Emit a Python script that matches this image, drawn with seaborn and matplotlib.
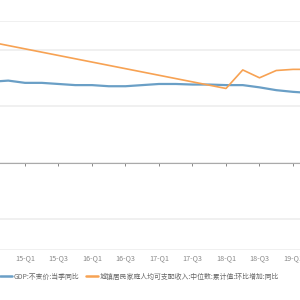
import numpy as np
import pandas as pd
import seaborn as sns
import matplotlib.pyplot as plt

#%% data
quarters = ["14-Q1", "14-Q2", "14-Q3", "14-Q4",
            "15-Q1", "15-Q2", "15-Q3", "15-Q4",
            "16-Q1", "16-Q2", "16-Q3", "16-Q4",
            "17-Q1", "17-Q2", "17-Q3", "17-Q4",
            "18-Q1", "18-Q2", "18-Q3", "18-Q4",
            "19-Q1", "19-Q2"]
gdp_yoy = [7.4, 7.5, 7.2, 7.3,
           7.1, 7.1, 7.0, 6.9,
           6.9, 6.8, 6.8, 6.9,
           7.0, 7.0, 6.95, 6.95,
           6.9, 6.9, 6.7, 6.45,
           6.3, 6.2]
income_yoy = [11.3, np.nan, np.nan, np.nan,
              np.nan, np.nan, np.nan, np.nan,
              np.nan, np.nan, np.nan, np.nan,
              np.nan, np.nan, np.nan, np.nan,
              6.6, 8.25, 7.55, 8.2,
              8.3, 8.3]
gdp_label = "GDP:不变价:当季同比"
income_label = "城镇居民家庭人均可支配收入:中位数:累计值:环比增加:同比"

df = pd.DataFrame({"q": np.arange(len(quarters)), "gdp": gdp_yoy, "income": income_yoy})

#%% style
sns.set_theme(style="white")
plt.rcParams['font.family'] = ['Noto Sans CJK SC', 'DejaVu Sans']

blue = "#6a9fc6"
orange = "#f7a253"

fig = plt.figure(figsize=(3, 3), dpi=100)
# plot area is cropped on the left/right like the reference
x0, x1 = 2.5075, 20.418
y0, y1 = -7.77, 12.63
ax = fig.add_axes([0, 50 / 300, 1, (250 - 20.7) / 300])

sns.lineplot(data=df, x="q", y="gdp", color=blue, linewidth=1.6, ax=ax, label=gdp_label)
sns.lineplot(data=df.dropna(subset=["income"]), x="q", y="income", color=orange,
             linewidth=1.2, ax=ax, label=income_label)

ax.set_xlabel("")
ax.set_ylabel("")

# grid lines
ax.set_yticks([y0, -5, 0, 5, 10, y1])
ax.yaxis.grid(True, color="#eeeeee", linewidth=1.2)
ax.tick_params(axis="y", left=False, labelleft=False)
for s in ["top", "left", "right"]:
    ax.spines[s].set_visible(False)

# zero line with small ticks
ax.spines["bottom"].set_position(("data", 0))
ax.spines["bottom"].set_color("#aaaaaa")
ax.spines["bottom"].set_linewidth(0.8)
ax.spines["bottom"].set_zorder(3)
ticks = df["q"][::2]
ax.set_xticks(ticks)
ax.tick_params(axis="x", bottom=True, length=2.5, width=0.7, color="#888888",
               direction="out", labelbottom=False)
ax.set_axisbelow(True)

# category labels at bottom of the plot area
sec = ax.secondary_xaxis("bottom")
sec.set_xticks(ticks, [quarters[i] for i in ticks])
sec.tick_params(length=0, pad=3, labelsize=5.2, labelcolor="#888888")
sec.spines["bottom"].set_visible(False)

ax.set_xlim(x0, x1)
ax.set_ylim(y0, y1)

ax.get_legend().remove()
h, l = ax.get_legend_handles_labels()
leg = fig.legend(h, l, loc="center left", bbox_to_anchor=(0.0, 0.078), ncol=2,
                 frameon=False, fontsize=4.95, labelcolor="#666666",
                 handlelength=1.7, handletextpad=0.35, columnspacing=0.9,
                 borderpad=0, borderaxespad=0)
for line in leg.get_lines():
    line.set_linewidth(1.8)

fig.savefig("out.png", dpi=100)
